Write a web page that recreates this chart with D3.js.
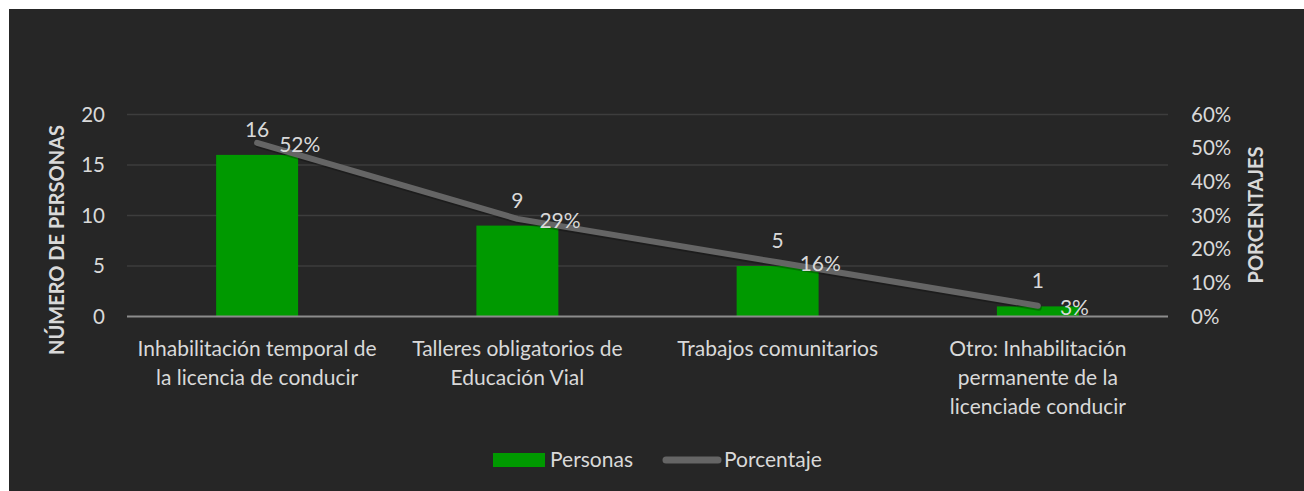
<!DOCTYPE html>
<html lang="es">
<head>
    <meta charset="UTF-8">
    <title>Personas y porcentaje</title>
    <script src="https://d3js.org/d3.v7.min.js"></script>
    <style type="text/css">
        body {
            margin: 0;
            background-color: #ffffff;
        }

        text {
            font-family: Lato, "Open Sans", sans-serif;
            fill: #d9d9d9;
        }

        .grid line {
            stroke: #3d3d3d;
            stroke-width: 1.5px;
        }

        .tick-label {
            font-size: 20.5px;
        }

        .axis-title {
            font-size: 20px;
            font-weight: bold;
            text-anchor: middle;
        }

        .cat-label {
            font-size: 21px;
            text-anchor: middle;
        }

        .data-label {
            font-size: 21px;
        }

        .legend-label {
            font-size: 21px;
        }
    </style>
</head>
<body>
    <script type="text/javascript">
        //DATA
        const categories = [
            "Inhabilitación temporal de\nla licencia de conducir",
            "Talleres obligatorios de\nEducación Vial",
            "Trabajos comunitarios",
            "Otro: Inhabilitación\npermanente de la\nlicenciade conducir"
        ];
        const personas = [16, 9, 5, 1];
        const porcentaje = [0.516, 0.290, 0.161, 0.032];
        const leftTicks = [0, 5, 10, 15, 20];
        const rightTicks = [0, 0.1, 0.2, 0.3, 0.4, 0.5, 0.6];
        const seriesNames = ["Personas", "Porcentaje"];

        //CONSTANTS
        const width = 1304;
        const height = 491;
        const plot = {left: 127, right: 1168, top: 114.5, bottom: 316.5};
        const barColor = "#009900";
        const lineColor = "#656565";

        const svg = d3.select("body")
            .append("svg")
            .attr("width", width)
            .attr("height", height);

        //DARK BACKGROUND
        svg.append("rect")
            .attr("x", 9)
            .attr("y", 9)
            .attr("width", width - 9)
            .attr("height", height - 9)
            .attr("fill", "#262626");

        //SCALES
        const xScale = d3.scaleBand()
            .domain(categories)
            .range([plot.left, plot.right])
            .paddingInner(0.685)
            .paddingOuter(0.3425);

        const yScale = d3.scaleLinear()
            .domain([0, 20])
            .range([plot.bottom, plot.top]);

        const y2Scale = d3.scaleLinear()
            .domain([0, 0.6])
            .range([plot.bottom, plot.top]);

        const cx = d => xScale(d) + xScale.bandwidth() / 2;

        //GRIDLINES
        svg.append("g")
            .attr("class", "grid")
            .selectAll("line")
            .data(leftTicks.filter(t => t > 0))
            .join("line")
            .attr("x1", plot.left)
            .attr("x2", plot.right)
            .attr("y1", d => yScale(d))
            .attr("y2", d => yScale(d));

        //LEFT AXIS LABELS
        svg.append("g")
            .selectAll("text")
            .data(leftTicks)
            .join("text")
            .attr("class", "tick-label")
            .attr("x", 105)
            .attr("y", d => yScale(d) + 7)
            .attr("text-anchor", "end")
            .text(d => d);

        //RIGHT AXIS LABELS
        const pctFmt = d3.format(".0%");
        svg.append("g")
            .selectAll("text")
            .data(rightTicks)
            .join("text")
            .attr("class", "tick-label")
            .attr("x", 1191)
            .attr("y", d => y2Scale(d) + 7)
            .text(d => pctFmt(d));

        //BARS
        svg.append("g")
            .selectAll("rect")
            .data(personas)
            .join("rect")
            .attr("x", (d, i) => xScale(categories[i]))
            .attr("y", d => yScale(d))
            .attr("width", xScale.bandwidth())
            .attr("height", d => yScale(0) - yScale(d))
            .attr("fill", barColor);

        //BASELINE
        svg.append("line")
            .attr("x1", plot.left)
            .attr("x2", plot.right)
            .attr("y1", yScale(0))
            .attr("y2", yScale(0))
            .attr("stroke", "#8c8c8c")
            .attr("stroke-width", 2);

        //LINE (shadow + line)
        const line = d3.line()
            .x((d, i) => cx(categories[i]))
            .y(d => y2Scale(d));

        svg.append("path")
            .attr("d", line(porcentaje))
            .attr("transform", "translate(1,2)")
            .attr("fill", "none")
            .attr("stroke", "#000")
            .attr("stroke-opacity", 0.25)
            .attr("stroke-width", 6)
            .attr("stroke-linecap", "round")
            .attr("stroke-linejoin", "round");

        svg.append("path")
            .attr("d", line(porcentaje))
            .attr("fill", "none")
            .attr("stroke", lineColor)
            .attr("stroke-width", 6)
            .attr("stroke-linecap", "round")
            .attr("stroke-linejoin", "round");

        //DATA LABELS - bars
        svg.append("g")
            .selectAll("text")
            .data(personas)
            .join("text")
            .attr("class", "data-label")
            .attr("x", (d, i) => cx(categories[i]))
            .attr("y", d => yScale(d) - 18)
            .attr("text-anchor", "middle")
            .text(d => d);

        //DATA LABELS - line
        svg.append("g")
            .selectAll("text")
            .data(porcentaje)
            .join("text")
            .attr("class", "data-label")
            .attr("x", (d, i) => cx(categories[i]) + 22)
            .attr("y", d => y2Scale(d) + 9)
            .text(d => pctFmt(d));

        //CATEGORY LABELS
        svg.append("g")
            .selectAll("text")
            .data(categories)
            .join("text")
            .attr("class", "cat-label")
            .attr("x", d => cx(d))
            .attr("y", 356)
            .each(function(d) {
                const el = d3.select(this);
                d.split("\n").forEach((ln, j) => {
                    el.append("tspan")
                        .attr("x", cx(d))
                        .attr("dy", j === 0 ? 0 : 29)
                        .text(ln);
                });
            });

        //AXIS TITLES
        svg.append("text")
            .attr("class", "axis-title")
            .attr("transform", "translate(64,240) rotate(-90)")
            .text("NÚMERO DE PERSONAS");

        svg.append("text")
            .attr("class", "axis-title")
            .attr("transform", "translate(1263,215) rotate(-90)")
            .text("PORCENTAJES");

        //LEGEND
        const legend = svg.append("g");
        legend.append("rect")
            .attr("x", 493)
            .attr("y", 453)
            .attr("width", 52)
            .attr("height", 14)
            .attr("fill", barColor);
        legend.append("text")
            .attr("class", "legend-label")
            .attr("x", 550)
            .attr("y", 467)
            .text(seriesNames[0]);
        legend.append("line")
            .attr("x1", 666)
            .attr("x2", 718)
            .attr("y1", 460)
            .attr("y2", 460)
            .attr("stroke", lineColor)
            .attr("stroke-width", 7)
            .attr("stroke-linecap", "round");
        legend.append("text")
            .attr("class", "legend-label")
            .attr("x", 724)
            .attr("y", 467)
            .text(seriesNames[1]);
    </script>
</body>
</html>
